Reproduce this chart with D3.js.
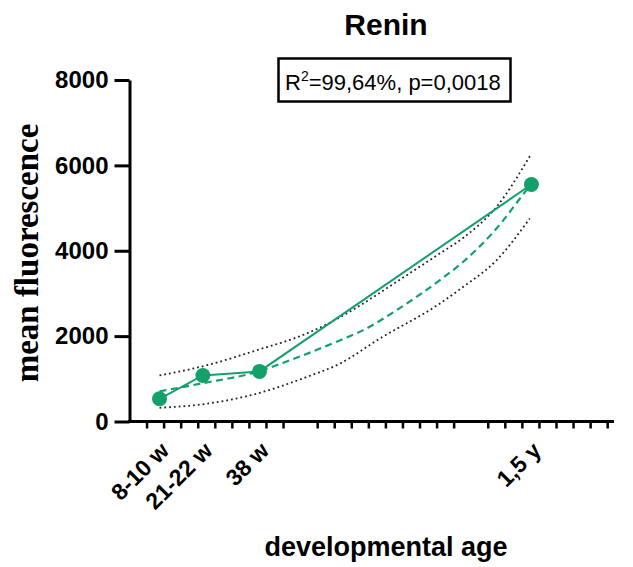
<!DOCTYPE html>
<html lang="en">
<head>
<meta charset="UTF-8">
<title>Renin</title>
<script src="https://d3js.org/d3.v7.min.js"></script>
<style>
  body { margin: 0; background: #fff; }
  svg { display: block; }
</style>
</head>
<body>
<svg width="633" height="567"></svg>
<script>
// measured points (x in axis units, one unit per minor tick)
const ageLabels = ["8-10 w", "21-22 w", "38 w", "1,5 y"];
const agePos = [1.76, 4.30, 7.62, 23.56];
const meanFluor = [532, 1079, 1173, 5553];

// fitted curve (dashed)
const fitX = [1.76, 4.30, 7.43, 9.38, 12.32, 13.68, 15.64, 18.18, 19.55, 21.51, 23.27, 23.56];
const fitY = [707, 898, 1157, 1431, 1900, 2135, 2604, 3308, 3737, 4520, 5419, 5560];

// confidence band (dotted)
const bandX = [1.76, 4.50, 7.43, 10.36, 11.92, 13.68, 15.64, 18.18, 19.55, 21.51, 23.56];
const upperY = [1079, 1314, 1666, 2057, 2350, 2761, 3268, 3934, 4300, 5027, 6280];
const lowerX = [1.76, 4.50, 7.43, 10.36, 12.32, 14.66, 18.18, 19.55, 21.51, 23.46];
const lowerY = [321, 415, 650, 1039, 1354, 1940, 2761, 3151, 3777, 4755];

const yTicks = [0, 2000, 4000, 6000, 8000];
const xMinorTicks = d3.range(1, 29).filter(d => d !== 10 && d !== 20);

const green = "#13a06b";
const svg = d3.select("svg");
const font = "'Liberation Sans', Arial, sans-serif";

const x = d3.scaleLinear().domain([0, 28.4]).range([129.5, 614]);
const y = d3.scaleLinear().domain([0, 8000]).range([421.5, 80]);

// title
svg.append("text")
    .attr("x", 386).attr("y", 35)
    .attr("text-anchor", "middle")
    .style("font-family", font).style("font-weight", "bold").style("font-size", "30px")
    .text("Renin");

// stats box
svg.append("rect")
    .attr("x", 278.5).attr("y", 58.5).attr("width", 232).attr("height", 43)
    .attr("fill", "none").attr("stroke", "#000").attr("stroke-width", 2.5);
const stat = svg.append("text")
    .attr("x", 285).attr("y", 90)
    .style("font-family", font).style("font-size", "22px");
stat.append("tspan").text("R");
stat.append("tspan").attr("dy", -9).style("font-size", "14px").text("2");
stat.append("tspan").attr("dy", 9).text("=99,64%, p=0,0018");

// y axis
const yAxis = svg.append("g")
    .attr("transform", "translate(129.5,0)")
    .call(d3.axisLeft(y).tickValues(yTicks).tickFormat(d3.format("d"))
        .tickSize(15).tickSizeOuter(0).tickPadding(6));
yAxis.selectAll("path, line").attr("stroke", "#000").attr("stroke-width", 3);
yAxis.selectAll("text")
    .style("font-family", font).style("font-weight", "bold").style("font-size", "24px")
    .attr("fill", "#000");

// x axis
const xAxis = svg.append("g")
    .attr("transform", "translate(0,421.5)")
    .call(d3.axisBottom(x).tickValues(xMinorTicks).tickSize(7).tickSizeOuter(0).tickFormat(""));
xAxis.select("path").attr("stroke", "#000").attr("stroke-width", 3)
    .attr("d", `M${x(0) - 1.5},0H${x(28.4)}`);
xAxis.selectAll("line").attr("stroke", "#000").attr("stroke-width", 2.5);

// x tick labels
svg.selectAll("text.xlab")
    .data(ageLabels)
    .enter()
    .append("text")
    .attr("class", "xlab")
    .attr("text-anchor", "end")
    .attr("transform", (d, i) => `translate(${x(agePos[i]) + 11},452) rotate(-45)`)
    .style("font-family", font).style("font-weight", "bold").style("font-size", "23px")
    .text(d => d);

// axis titles
svg.append("text")
    .attr("x", 386).attr("y", 556)
    .attr("text-anchor", "middle")
    .style("font-family", font).style("font-weight", "bold").style("font-size", "27px")
    .text("developmental age");

svg.append("text")
    .attr("transform", "translate(38,253) rotate(-90)")
    .attr("text-anchor", "middle")
    .style("font-family", "'Liberation Serif', 'Times New Roman', serif")
    .style("font-weight", "bold").style("font-size", "33px")
    .text("mean fluorescence");

// confidence band
const line = d3.line().curve(d3.curveMonotoneX);
svg.append("path")
    .attr("d", line(bandX.map((d, i) => [x(d), y(upperY[i])])))
    .attr("fill", "none").attr("stroke", "#222").attr("stroke-width", 1.8)
    .attr("stroke-dasharray", "1.8,3");
svg.append("path")
    .attr("d", line(lowerX.map((d, i) => [x(d), y(lowerY[i])])))
    .attr("fill", "none").attr("stroke", "#222").attr("stroke-width", 1.8)
    .attr("stroke-dasharray", "1.8,3");

// fitted curve
svg.append("path")
    .attr("d", line(fitX.map((d, i) => [x(d), y(fitY[i])])))
    .attr("fill", "none").attr("stroke", green).attr("stroke-width", 2.2)
    .attr("stroke-dasharray", "7,4.5");

// connecting line
svg.append("path")
    .attr("d", d3.line()(agePos.map((d, i) => [x(d), y(meanFluor[i])])))
    .attr("fill", "none").attr("stroke", green).attr("stroke-width", 2);

// points
svg.selectAll("circle.pt")
    .data(meanFluor)
    .enter()
    .append("circle")
    .attr("class", "pt")
    .attr("cx", (d, i) => x(agePos[i]))
    .attr("cy", d => y(d))
    .attr("r", 7.5)
    .attr("fill", green);
</script>
</body>
</html>
